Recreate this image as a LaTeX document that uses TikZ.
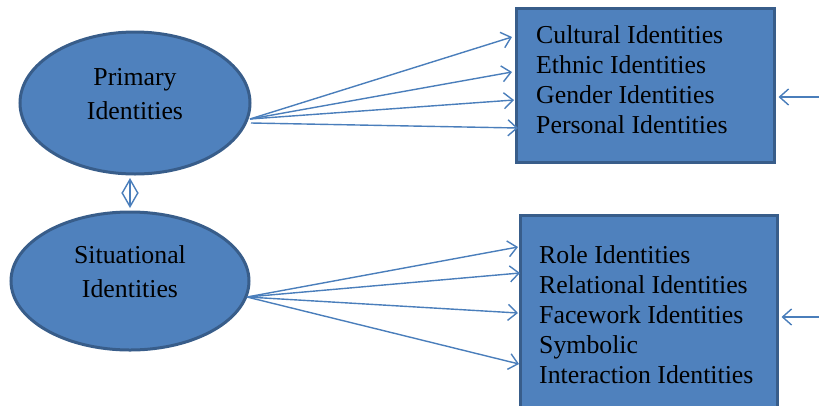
\documentclass[tikz,border=0pt]{standalone}
\usepackage{fontspec}
\setmainfont{Liberation Serif}
\usetikzlibrary{arrows.meta,shapes.geometric}
\definecolor{fillblue}{HTML}{4F81BD}
\definecolor{edgeblue}{HTML}{385D8A}
\definecolor{arrowblue}{HTML}{4A7EBB}
\begin{document}
\begin{tikzpicture}[x=1pt,y=-1pt,
  oval/.style={ellipse, draw=edgeblue, fill=fillblue, line width=3pt, inner sep=0pt},
  idbox/.style={rectangle, draw=edgeblue, fill=fillblue, line width=3pt, inner sep=0pt},
  lbl/.style={font=\fontsize{25.8}{34}\selectfont, align=center, inner sep=0pt},
  listtxt/.style={font=\fontsize{25.8}{30}\selectfont, align=left, inner sep=0pt, anchor=west},
  conn/.style={draw=arrowblue, line width=1.4pt, -{Straight Barb[length=9pt,width=16pt]}},
  dconn/.style={draw=arrowblue, line width=1.4pt, {Straight Barb[length=14pt,width=16pt]}-{Straight Barb[length=14pt,width=16pt]}}
]
\clip (0,0) rectangle (819,405);
\useasboundingbox (0,0) rectangle (819,405);
% ellipses
\node[oval, minimum width=230pt, minimum height=142pt] (prim) at (135,103) {};
\node[lbl] (primtxt) at (135,94) {Primary\\Identities};
\node[oval, minimum width=238pt, minimum height=138pt] (sit) at (130,281) {};
\node[lbl] (sittxt) at (130,272) {Situational\\Identities};
% boxes
\node[idbox, minimum width=258pt, minimum height=154pt] (topbox) at (645,85) {};
\node[listtxt] (toptxt) at (536,80) {Cultural Identities\\Ethnic Identities\\Gender Identities\\Personal Identities};
\node[idbox, minimum width=257pt, minimum height=210pt] (botbox) at (648.5,320) {};
\node[listtxt] (bottxt) at (539,314.5) {Role Identities\\Relational Identities\\Facework Identities\\Symbolic\\Interaction Identities};
% connector end points
\coordinate (pa) at (250,119);
\coordinate (pb) at (251,123);
\coordinate (pt1) at (512,37);
\coordinate (pt2) at (512,72);
\coordinate (pt3) at (514,100);
\coordinate (pt4) at (518,128);
\coordinate (sa) at (247,297);
\coordinate (st1) at (518,247);
\coordinate (st2) at (520,273);
\coordinate (st3) at (518,313);
\coordinate (st4) at (519,364);
\coordinate (rt) at (819,97);
\coordinate (rb) at (819,317);
\coordinate (dtop) at (130,178);
\coordinate (dbot) at (130,208);
% connectors
\draw[conn] (pa) -- (pt1);
\draw[conn] (pa) -- (pt2);
\draw[conn] (pa) -- (pt3);
\draw[conn] (pb) -- (pt4);
\draw[conn] (sa) -- (st1);
\draw[conn] (sa) -- (st2);
\draw[conn] (sa) -- (st3);
\draw[conn] (sa) -- (st4);
\draw[conn] (rt) -- ([xshift=3pt]topbox.east |- rt);
\draw[conn] (rb) -- ([xshift=3pt]botbox.east |- rb);
\draw[dconn] (dtop) -- (dbot);
\end{tikzpicture}
\end{document}
